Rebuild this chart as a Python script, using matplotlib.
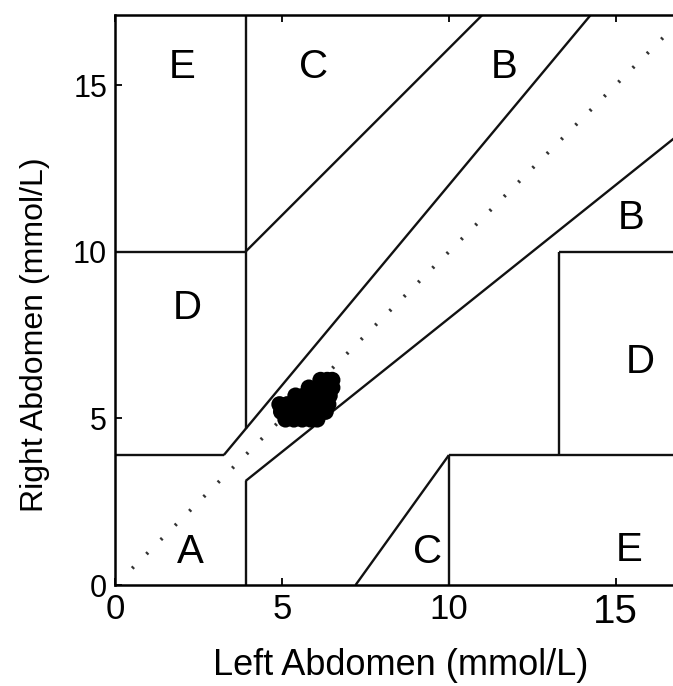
import matplotlib
matplotlib.use("Agg")
import matplotlib.pyplot as plt
import numpy as np

plt.rcParams['font.family'] = ['Liberation Sans', 'DejaVu Sans']

# Clarke error grid boundaries (mmol/L)
lo = 3.9      # 70 mg/dL
hi = 10.0     # 180 mg/dL
d_edge = 13.3 # 240 mg/dL
top_end = 22.2  # 400 mg/dL

# zone boundary segments: (x0, x1, y0, y1)
seg_x = [[0, lo / 1.2], [lo / 1.2, top_end / 1.2], [lo, lo], [0, lo], [lo, top_end - 6.1],
         [lo, lo], [lo, top_end], [hi, top_end], [hi, hi], [d_edge, d_edge], [d_edge, top_end],
         [7.2, hi]]
seg_y = [[lo, lo], [lo, top_end], [lo * 1.2, top_end], [hi, hi], [hi, top_end],
         [0, lo * 0.8], [lo * 0.8, top_end * 0.8], [lo, lo], [0, lo], [lo, hi], [hi, hi],
         [0, lo]]

zone_labels = ['E', 'C', 'B', 'B', 'D', 'D', 'A', 'C', 'E']
zone_x = [2.0, 5.95, 11.65, 15.45, 2.15, 15.75, 2.25, 9.35, 15.4]
zone_y = [15.55, 15.55, 15.55, 11.0, 8.3, 6.7, 1.0, 1.0, 1.05]

# measurements (left vs right abdomen), dense cluster
blob_x = [5.1, 5.35, 5.6, 5.85, 6.05,
          4.97, 5.2, 5.45, 5.7, 5.95, 6.2, 6.3,
          4.92, 5.15, 5.4, 5.65, 5.9, 6.15, 6.38,
          5.4, 5.65, 5.9, 6.15, 6.42,
          5.8, 6.05, 6.3, 6.5,
          6.15, 6.35, 6.5]
blob_y = [4.97, 4.97, 4.97, 4.97, 4.97,
          5.2, 5.2, 5.2, 5.2, 5.2, 5.2, 5.2,
          5.42, 5.42, 5.42, 5.42, 5.42, 5.42, 5.42,
          5.68, 5.68, 5.68, 5.68, 5.68,
          5.92, 5.92, 5.92, 5.92,
          6.15, 6.15, 6.15]

xticks = [0, 5, 10, 15]
yticks = [0, 5, 10, 15]

fig = plt.figure(figsize=(6.73, 6.86), dpi=100)
ax = fig.add_axes([0.1716, 0.1472, 0.8284 + 0.003, 0.9781 - 0.1472])
ax.set_xlim(0, 16.78)
ax.set_ylim(0, 17.1)

for xs, ys in zip(seg_x, seg_y):
    ax.plot(xs, ys, color='#111111', lw=1.7, solid_capstyle='butt')

diag = ax.plot([0.5, 17], [0.5, 17], color='#333333', lw=2.6)[0]
diag.set_dashes([0.6, 5.0])
diag.set_dash_capstyle('butt')

ax.scatter(blob_x, blob_y, s=140, color='black', edgecolors='none', zorder=5)

for lab, x, y in zip(zone_labels, zone_x, zone_y):
    ax.text(x, y, lab, fontsize=29, ha='center', va='center')

ax.set_xticks(xticks)
ax.set_yticks(yticks)
ax.set_xticklabels([str(t) for t in xticks], fontsize=25)
ax.set_yticklabels([str(t) for t in yticks], fontsize=22)
ax.get_xticklabels()[-1].set_fontsize(29)
ax.tick_params(direction='in', length=5, width=1.3, top=True, right=False)
ax.tick_params(axis='x', pad=6)
ax.tick_params(axis='y', pad=6)
for sp in ax.spines.values():
    sp.set_linewidth(1.8)
ax.spines['right'].set_visible(False)

ax.set_xlabel('Left Abdomen (mmol/L)', fontsize=26)
ax.set_ylabel('Right Abdomen (mmol/L)', fontsize=23)
ax.xaxis.set_label_coords(0.51, -0.11)
ax.yaxis.set_label_coords(-0.117, 0.44)

fig.savefig('out.png', dpi=100)
